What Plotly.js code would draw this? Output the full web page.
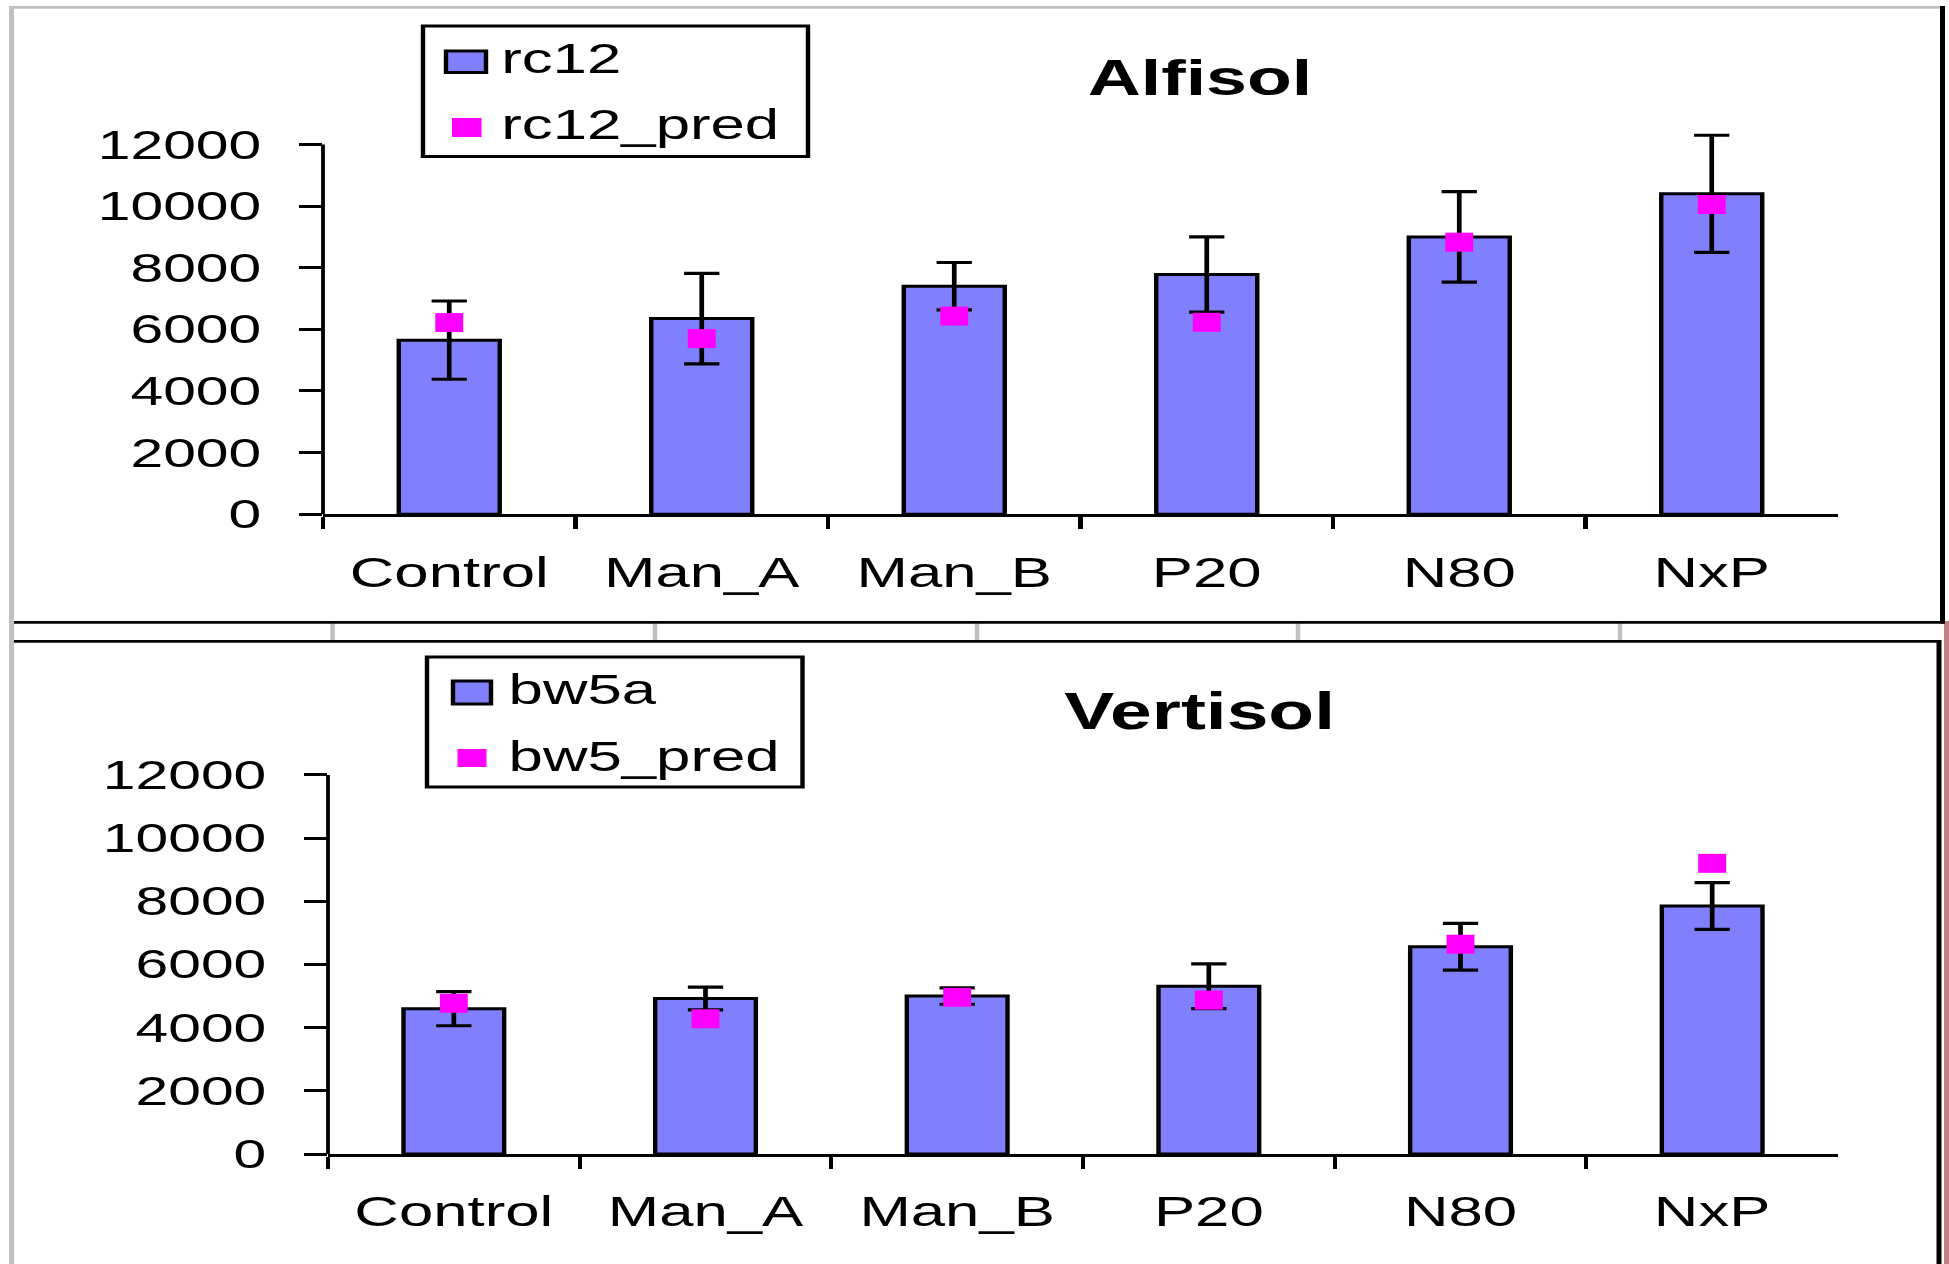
<!DOCTYPE html>
<html>
<head>
<meta charset="utf-8">
<script src="https://cdn.plot.ly/plotly-3.0.1.min.js"></script>
<style>
  html, body { margin: 0; padding: 0; background: #ffffff; overflow: hidden; width: 1949px; height: 1264px; }
  #chart { transform-origin: 0 0; }
</style>
</head>
<body>
<div id="chart"></div>
<script>
// Treatment categories shared by both soils
const categories = ['Control', 'Man_A', 'Man_B', 'P20', 'N80', 'NxP'];

// Alfisol: observed rc12 (mean, error) and predicted rc12_pred
const alfisolRc12 = [5650, 6350, 7400, 7780, 9000, 10400];
const alfisolRc12Err = [1270, 1470, 770, 1220, 1470, 1900];
const alfisolPred = [6220, 5700, 6430, 6230, 8830, 10050];

// Vertisol: observed bw5a (mean, error) and predicted bw5_pred
const vertisolBw5a = [4600, 4920, 5000, 5310, 6560, 7850];
const vertisolBw5aErr = [540, 360, 260, 710, 740, 740];
const vertisolPred = [4770, 4280, 4960, 4870, 6640, 9200];

// Value axis ticks
const yTickVals = [0, 2000, 4000, 6000, 8000, 10000, 12000];
const yTickText = ['0', '2000', '4000', '6000', '8000', '10000', '12000'];

// Series names and panel titles
const topNames = ['rc12', 'rc12_pred'];
const bottomNames = ['bw5a', 'bw5_pred'];
const panelTitles = ['Alfisol', 'Vertisol'];

// ---- page geometry: the figure is laid out narrow and widened horizontally ----
const OUT_W = 1949, H = 1264, W = 1326;
const K = OUT_W / W;
const chartDiv = document.getElementById('chart');
chartDiv.style.width = W + 'px';
chartDiv.style.height = H + 'px';
chartDiv.style.transform = 'scaleX(' + K + ')';

const px = x => x / OUT_W;        // horizontal page position -> paper fraction
const py = y => 1 - y / H;        // vertical page position -> paper fraction
const vw = w => w / K;            // stroke width for vertical strokes

const FONT = 'Liberation Sans, Arial, sans-serif';
const BAR_FILL = '#8080FF';
const PRED_FILL = '#FF00FF';
const yMax = yTickVals[yTickVals.length - 1];

function barTrace(y, err, name, xa, ya) {
  return {
    type: 'bar', x: categories, y: y, name: name, xaxis: xa, yaxis: ya,
    marker: { color: BAR_FILL, line: { color: '#000000', width: 3 } },
    error_y: { type: 'data', array: err, visible: true, color: '#000000', thickness: 3.2, width: 12 },
    hoverinfo: 'skip'
  };
}
function predTrace(y, name, xa, ya) {
  return {
    type: 'scatter', mode: 'markers', x: categories, y: y, name: name, xaxis: xa, yaxis: ya,
    marker: { symbol: 'square', size: 19, color: PRED_FILL, line: { width: 0 } },
    cliponaxis: false, hoverinfo: 'skip'
  };
}

const data = [
  barTrace(alfisolRc12, alfisolRc12Err, topNames[0], 'x', 'y'),
  predTrace(alfisolPred, topNames[1], 'x', 'y'),
  barTrace(vertisolBw5a, vertisolBw5aErr, bottomNames[0], 'x2', 'y2'),
  predTrace(vertisolPred, bottomNames[1], 'x2', 'y2')
];

function catAxis(domain, anchor) {
  return {
    domain: domain, anchor: anchor, type: 'category', range: [-0.5, categories.length - 0.5],
    tickson: 'boundaries', ticks: 'outside', ticklen: 12, tickwidth: 2.8, tickcolor: '#000000',
    showline: true, linewidth: 3, linecolor: '#000000', showgrid: false, zeroline: false,
    tickfont: { family: FONT, size: 42, color: '#000000' }, ticklabelstandoff: 19,
    fixedrange: true
  };
}
function valAxis(domain, anchor) {
  return {
    domain: domain, anchor: anchor, range: [0, 12500],
    tickmode: 'array', tickvals: yTickVals, ticktext: yTickText,
    ticks: 'outside', ticklen: 15, tickwidth: 3, tickcolor: '#000000',
    showline: false, showgrid: false, zeroline: false,
    tickfont: { family: FONT, size: 40, color: '#000000' }, ticklabelstandoff: 18,
    fixedrange: true
  };
}

// plot areas in page pixels
const upperArea = { x0: 323, x1: 1838, yZero: 514.2, yTop: 129.1 };
const lowerArea = { x0: 328, x1: 1838, yZero: 1154, yTop: 759.1 };

const shapes = [];
const annotations = [];

// value-axis lines run from 0 up to the last tick
[['x', 'y'], ['x2', 'y2']].forEach(([xa, ya]) => {
  shapes.push({ type: 'line', xref: xa + ' domain', yref: ya, x0: 0, x1: 0, y0: 0, y1: yMax,
    line: { color: '#000000', width: 2.6 }, layer: 'above' });
});

// legend boxes with swatches and labels
function legend(box, barSw, predSw, textX, textY1, textY2, names) {
  shapes.push({ type: 'rect', xref: 'paper', yref: 'paper',
    x0: px(box[0]), x1: px(box[1]), y0: py(box[2]), y1: py(box[3]),
    line: { color: '#000000', width: 3 }, fillcolor: '#ffffff' });
  shapes.push({ type: 'rect', xref: 'paper', yref: 'paper',
    x0: px(barSw[0]), x1: px(barSw[1]), y0: py(barSw[2]), y1: py(barSw[3]),
    line: { color: '#000000', width: 3 }, fillcolor: BAR_FILL });
  shapes.push({ type: 'rect', xref: 'paper', yref: 'paper',
    x0: px(predSw[0]), x1: px(predSw[1]), y0: py(predSw[2]), y1: py(predSw[3]),
    line: { width: 0 }, fillcolor: PRED_FILL });
  [[names[0], textY1], [names[1], textY2]].forEach(([t, yy]) => {
    annotations.push({ text: t, xref: 'paper', yref: 'paper', x: px(textX), y: py(yy),
      xanchor: 'left', yanchor: 'middle', showarrow: false,
      font: { family: FONT, size: 42, color: '#000000' } });
  });
}
legend([423, 808, 26, 156.5], [446, 486, 51, 72.5], [452, 481.5, 118, 137], 498, 58, 124.5, topNames);
legend([427, 802.5, 657, 787], [453, 491, 681, 704], [457.5, 486.5, 749, 767], 505, 689, 756, bottomNames);

// panel titles
annotations.push({ text: '<b>' + panelTitles[0] + '</b>', xref: 'paper', yref: 'paper',
  x: px(1200), y: py(77.7), xanchor: 'center', yanchor: 'middle', showarrow: false,
  font: { family: FONT, size: 50, color: '#000000' } });
annotations.push({ text: '<b>' + panelTitles[1] + '</b>', xref: 'paper', yref: 'paper',
  x: px(1199), y: py(711.8), xanchor: 'center', yanchor: 'middle', showarrow: false,
  font: { family: FONT, size: 51, color: '#000000' } });

// panel frames and the sheet strip between the two panels
function pline(x0, y0, x1, y1, color, w) {
  shapes.push({ type: 'line', xref: 'paper', yref: 'paper',
    x0: px(x0), x1: px(x1), y0: py(y0), y1: py(y1), line: { color: color, width: w } });
}
pline(11.5, 6, 11.5, H, '#C0C0C0', vw(5));          // left sheet edge
pline(9, 7.3, 1945, 7.3, '#C0C0C0', 2.7);           // top sheet edge
pline(1942.5, 6, 1942.5, 623.5, '#000000', vw(5));  // upper panel right edge
pline(1946.5, 621, 1946.5, H, '#C08080', vw(5));    // window edge
pline(1939, 640, 1939, H, '#000000', vw(5));        // lower panel right edge
[332.6, 655, 977, 1298, 1620].forEach(x => pline(x, 623.5, x, 640, '#C0C0C0', vw(4.5)));
pline(14, 622.3, 1945, 622.3, '#000000', 2.8);      // upper panel bottom edge
pline(14, 641.3, 1941, 641.3, '#000000', 2.8);      // lower panel top edge

const layout = {
  width: W, height: H, margin: { l: 0, r: 0, t: 0, b: 0, pad: 0 },
  paper_bgcolor: '#ffffff', plot_bgcolor: 'rgba(0,0,0,0)',
  showlegend: false, bargap: 0.6,
  xaxis: catAxis([px(upperArea.x0), px(upperArea.x1)], 'y'),
  yaxis: valAxis([py(upperArea.yZero), py(upperArea.yTop)], 'x'),
  xaxis2: catAxis([px(lowerArea.x0), px(lowerArea.x1)], 'y2'),
  yaxis2: valAxis([py(lowerArea.yZero), py(lowerArea.yTop)], 'x2'),
  shapes: shapes,
  annotations: annotations
};

Plotly.newPlot(chartDiv, data, layout, { staticPlot: true, displayModeBar: false, responsive: false });
</script>
</body>
</html>
